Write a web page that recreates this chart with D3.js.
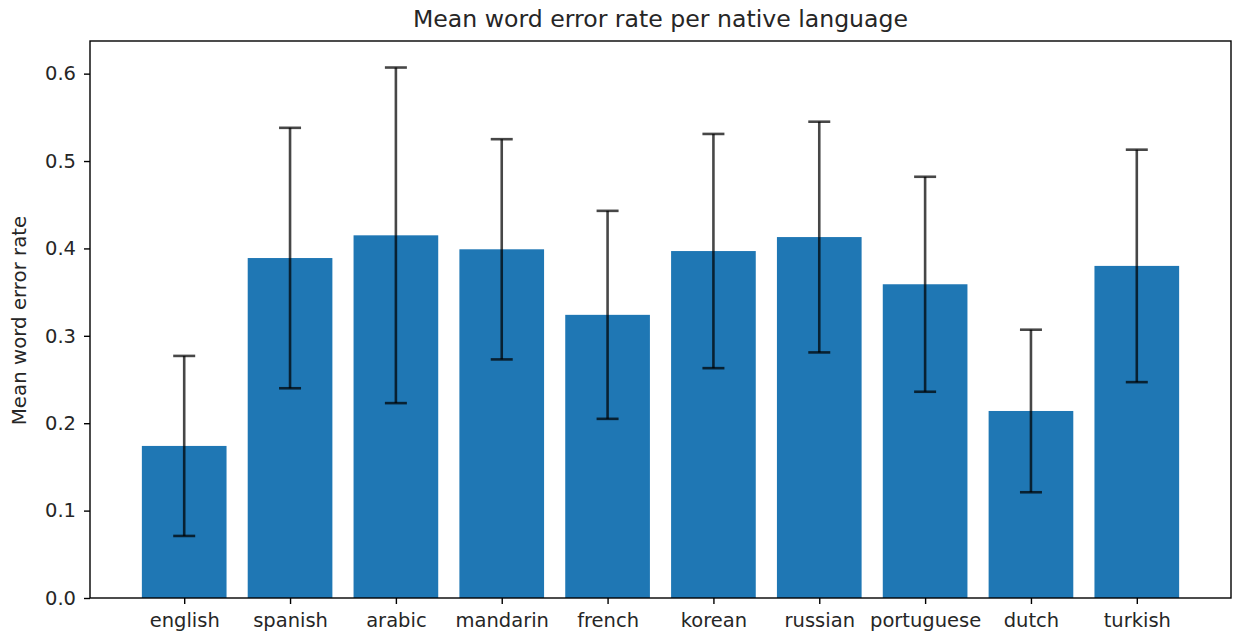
<!DOCTYPE html>
<html>
<head>
<meta charset="utf-8">
<script src="https://cdn.jsdelivr.net/npm/d3@7"></script>
<style>
  html, body { margin: 0; padding: 0; background: #fff; }
  svg { display: block; font-family: "DejaVu Sans", sans-serif; }
</style>
</head>
<body>
<svg id="chart" width="1236" height="633"></svg>
<script>
// Mean word error rate by speaker's native language, with ±1 std error bars
const languages = ["english", "spanish", "arabic", "mandarin", "french",
                   "korean", "russian", "portuguese", "dutch", "turkish"];
const meanWER   = [0.174, 0.389, 0.415, 0.399, 0.324, 0.397, 0.413, 0.359, 0.214, 0.380];
const stdWER    = [0.103, 0.149, 0.192, 0.126, 0.119, 0.134, 0.132, 0.123, 0.093, 0.133];
const yTicks    = [0.0, 0.1, 0.2, 0.3, 0.4, 0.5, 0.6];

const svg = d3.select("#chart");
const margin = { left: 90, right: 1231, top: 41, bottom: 598 };

// Category positions 0..n-1, bar width 0.8, 5% padding like a default bar plot
const n = languages.length;
const xLo = -0.4, xHi = n - 1 + 0.4, xPad = (xHi - xLo) * 0.05;
const x = d3.scaleLinear()
  .domain([xLo - xPad, xHi + xPad])
  .range([margin.left, margin.right]);

const yTop = d3.max(meanWER.map((m, i) => m + stdWER[i])) * 1.05;
const y = d3.scaleLinear()
  .domain([0, yTop])
  .range([margin.bottom, margin.top]);

const data = languages.map((lang, i) => ({ lang, i, mean: meanWER[i], sd: stdWER[i] }));

// Bars
svg.append("g").selectAll("rect").data(data).join("rect")
  .attr("x", d => x(d.i - 0.4))
  .attr("width", d => x(d.i + 0.4) - x(d.i - 0.4))
  .attr("y", d => y(d.mean))
  .attr("height", d => y(0) - y(d.mean))
  .attr("fill", "#1f77b4");

// Error bars
const capHalf = 11;
const eb = svg.append("g")
  .attr("stroke", "#000")
  .attr("stroke-opacity", 0.72)
  .attr("stroke-width", 2.6);
eb.selectAll("line.stem").data(data).join("line").attr("class", "stem")
  .attr("x1", d => x(d.i)).attr("x2", d => x(d.i))
  .attr("y1", d => y(d.mean - d.sd)).attr("y2", d => y(d.mean + d.sd));
eb.selectAll("line.capTop").data(data).join("line").attr("class", "capTop")
  .attr("x1", d => x(d.i) - capHalf).attr("x2", d => x(d.i) + capHalf)
  .attr("y1", d => y(d.mean + d.sd)).attr("y2", d => y(d.mean + d.sd));
eb.selectAll("line.capBot").data(data).join("line").attr("class", "capBot")
  .attr("x1", d => x(d.i) - capHalf).attr("x2", d => x(d.i) + capHalf)
  .attr("y1", d => y(d.mean - d.sd)).attr("y2", d => y(d.mean - d.sd));

// Frame
svg.append("rect")
  .attr("x", margin.left).attr("y", margin.top)
  .attr("width", margin.right - margin.left)
  .attr("height", margin.bottom - margin.top)
  .attr("fill", "none").attr("stroke", "#000").attr("stroke-width", 1.4);

// Axes
const yAxis = d3.axisLeft(y).tickValues(yTicks).tickFormat(d3.format(".1f"))
  .tickSize(6).tickPadding(8);
const gy = svg.append("g").attr("transform", `translate(${margin.left},0)`).call(yAxis);

const xAxis = d3.axisBottom(x).tickValues(d3.range(n))
  .tickFormat(i => languages[i]).tickSize(6).tickPadding(9);
const gx = svg.append("g").attr("transform", `translate(0,${margin.bottom})`).call(xAxis);

[gx, gy].forEach(g => {
  g.select(".domain").remove();
  g.selectAll(".tick line").attr("stroke", "#000").attr("stroke-width", 1.4);
  g.selectAll(".tick text").attr("fill", "#262626")
    .style("font-family", "DejaVu Sans").style("font-size", "19.5px");
});

// Title and axis label
svg.append("text")
  .attr("x", (margin.left + margin.right) / 2).attr("y", 27)
  .attr("text-anchor", "middle").attr("fill", "#262626")
  .style("font-size", "23.6px")
  .text("Mean word error rate per native language");

svg.append("text")
  .attr("transform", `translate(26,${(margin.top + margin.bottom) / 2 + 1}) rotate(-90)`)
  .attr("text-anchor", "middle").attr("fill", "#262626")
  .style("font-size", "19.8px")
  .text("Mean word error rate");
</script>
</body>
</html>
